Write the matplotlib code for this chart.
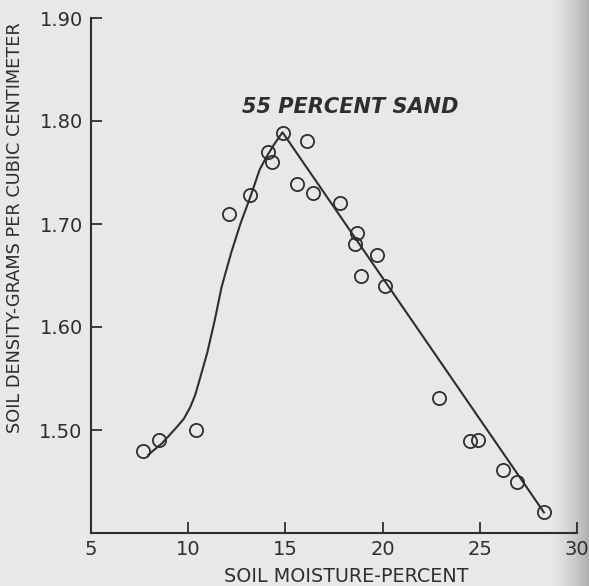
import numpy as np
import matplotlib
matplotlib.use("Agg")
import matplotlib.pyplot as plt

# Messpunkte (Bodenfeuchte in %, Dichte in g/cm3)
moisture = [7.7, 8.5, 10.4, 12.1, 13.2, 14.1, 14.3, 14.9, 15.6, 16.1, 16.4,
            17.8, 18.7, 18.6, 19.7, 18.9, 20.1, 22.9, 24.5, 24.9, 26.2, 26.9, 28.3]
density = [1.480, 1.490, 1.500, 1.710, 1.728, 1.770, 1.760, 1.788, 1.739, 1.781, 1.730,
           1.720, 1.691, 1.681, 1.670, 1.650, 1.640, 1.531, 1.489, 1.490, 1.461, 1.450, 1.420]

# Kurve, von Hand gezeichnet
curve_x = [7.95, 8.65, 9.42, 9.78, 10.1, 10.36, 10.59, 10.98, 11.37, 11.72, 12.21, 12.70,
           13.19, 13.68, 14.02, 14.41, 14.85, 28.3]
curve_y = [1.476, 1.487, 1.503, 1.511, 1.522, 1.534, 1.549, 1.575, 1.607, 1.639, 1.672, 1.701,
           1.726, 1.753, 1.765, 1.777, 1.789, 1.420]

x_ticks = [5, 10, 15, 20, 25, 30]
y_ticks = [1.50, 1.60, 1.70, 1.80, 1.90]
y_labels = ["1.50", "1.60", "1.70", "1.80", "1.90"]

paper = "#e8e8e6"
ink = "#2e2e2e"

plt.rcParams['font.family'] = ['DejaVu Sans']

fig = plt.figure(figsize=(5.89, 5.86), dpi=100)
fig.patch.set_facecolor(paper)

# Papierhintergrund mit dunklerem rechten Rand
bg = fig.add_axes([0, 0, 1, 1], zorder=-5)
cols = np.linspace(0, 1, 589)
shade = np.clip((cols - 0.93) / 0.07, 0, 1) ** 1.5
img = 0.91 - 0.22 * shade
bg.imshow(np.tile(img, (20, 1)), cmap="gray", vmin=0, vmax=1, aspect="auto",
          extent=[0, 1, 0, 1])
bg.axis("off")

ax = fig.add_axes([91 / 589, 53 / 586, 486 / 589, 515 / 586])
ax.patch.set_alpha(0)

ax.plot(curve_x, curve_y, color=ink, lw=1.5, zorder=2)
ax.plot(moisture, density, linestyle="none", marker="o", markersize=9.5,
        markerfacecolor="none", markeredgecolor=ink, markeredgewidth=1.3, zorder=3)

ax.text(12.75, 1.8136, "55 PERCENT SAND", fontsize=15, style="italic",
        fontweight="bold", color=ink, va="center", ha="left")

ax.set_xlim(5, 30)
ax.set_ylim(1.40, 1.90)
ax.set_xticks(x_ticks)
ax.set_yticks(y_ticks)
ax.set_yticklabels(y_labels)

for s in ["top", "right"]:
    ax.spines[s].set_visible(False)
for s in ["left", "bottom"]:
    ax.spines[s].set_linewidth(1.5)
    ax.spines[s].set_color(ink)

ax.tick_params(direction="in", length=8, width=1.3, color=ink,
               labelsize=14, labelcolor=ink)
ax.tick_params(axis="x", pad=5)
ax.tick_params(axis="y", pad=6)

ax.set_xlabel("SOIL MOISTURE-PERCENT", fontsize=13.8, color=ink)
ax.xaxis.set_label_coords(0.525, -0.066)
ax.set_ylabel("SOIL DENSITY-GRAMS PER CUBIC CENTIMETER", fontsize=12.8, color=ink)
ax.yaxis.set_label_coords(-0.138, 0.592)

fig.savefig("out.png", dpi=100, facecolor=fig.get_facecolor())
